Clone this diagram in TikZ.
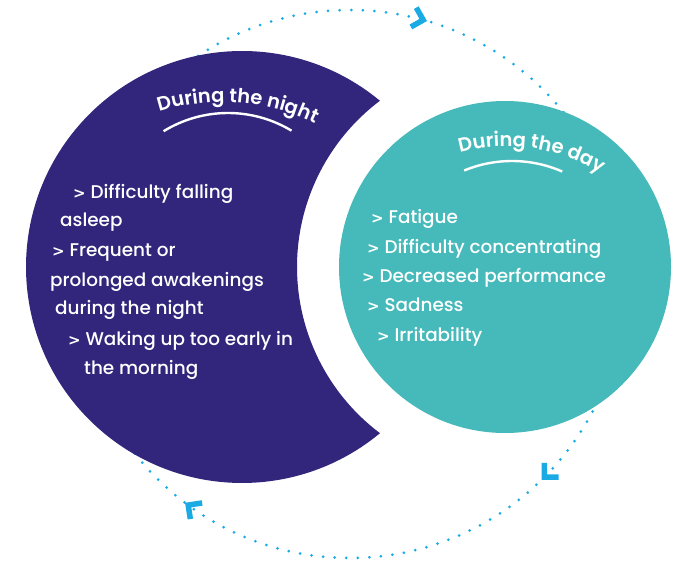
\documentclass[tikz,border=0pt]{standalone}
\usepackage{fontspec}
\setmainfont{Poppins Medium}[BoldFont=Poppins SemiBold]
\newfontfamily\gtfont{DejaVu Sans}
\usetikzlibrary{decorations.text}
\definecolor{night}{HTML}{31267B}
\definecolor{day}{HTML}{46B9BA}
\definecolor{cyc}{HTML}{1AABE5}
\newcommand\ttlfont{\bfseries\fontsize{19.5}{22}\selectfont}
\newcommand\gt{{\gtfont\bfseries\fontsize{15}{18}\selectfont >}}
\begin{document}
\begin{tikzpicture}[x=1pt,y=1pt,
  body/.style={text=white, font=\fontsize{18.4}{21}\selectfont, anchor=base west, inner sep=0pt},
  chevline/.style={cyc, line width=5.5pt, miter limit=10, line join=miter},
  dots/.style={cyc, line width=3pt, line cap=round, dash pattern=on 0pt off 11.6pt},
  uline/.style={white, line width=2.4pt},
  chev/.pic={\draw[chevline] (-10,10) -- (0,0) -- (-10,-10);}
]
\useasboundingbox (0,0) rectangle (674,562);
\coordinate (dc) at (350,278);
\coordinate (nc) at (242,295);
\coordinate (tc) at (505,295);
\coordinate (ntc) at (222.5,250);
\coordinate (dtc) at (507,237.5);
\coordinate (nuc) at (228,326);
\coordinate (duc) at (512,276);
% dotted cycle
\draw[dots] (dc) circle[radius=274];
% night crescent
\fill[night] (nc) ++(50.3:216) arc[start angle=50.3, end angle=309.7, radius=216]
  arc[start angle=233.05, end angle=126.95, radius=208] -- cycle;
% day circle
\fill[day] (tc) circle[radius=166];
% chevrons
\path (dc) ++(74.5:274) pic[rotate=-15.5] {chev};
\path (dc) ++(-44.8:274) pic[rotate=-134.8] {chev};
\path (dc) ++(233.8:274) pic[rotate=143.8] {chev};
% titles
\path[decorate, decoration={text along path, text={|\ttlfont|During the night}, text align=center, text color=white}]
  (ntc) ++(120.5:210) arc[start angle=120.5, end angle=50.9, radius=210];
\path[decorate, decoration={text along path, text={|\ttlfont|During the day}, text align=center, text color=white}]
  (dtc) ++(107.5:178) arc[start angle=107.5, end angle=56.1, radius=178];
\draw[uline] (nuc) ++(121.6:123) arc[start angle=121.6, end angle=58.9, radius=123];
\draw[uline] (duc) ++(112.5:125) arc[start angle=112.5, end angle=66.3, radius=125];
% night text
\node[body] (n1) at (73,363) {\gt\ Difficulty falling};
\node[body] (n2) at (60,335) {asleep};
\node[body] (n3) at (52,305) {\gt\ Frequent or};
\node[body] (n4) at (50,275) {prolonged awakenings};
\node[body] (n5) at (55,247) {during the night};
\node[body] (n6) at (68,216) {\gt\ Waking up too early in};
\node[body] (n7) at (84,187) {the morning};
% day text
\node[body] (d1) at (371,338) {\gt\ Fatigue};
\node[body] (d2) at (367,308) {\gt\ Difficulty concentrating};
\node[body] (d3) at (362,279) {\gt\ Decreased performance};
\node[body] (d4) at (367,250) {\gt\ Sadness};
\node[body] (d5) at (377,220) {\gt\ Irritability};
\end{tikzpicture}
\end{document}
